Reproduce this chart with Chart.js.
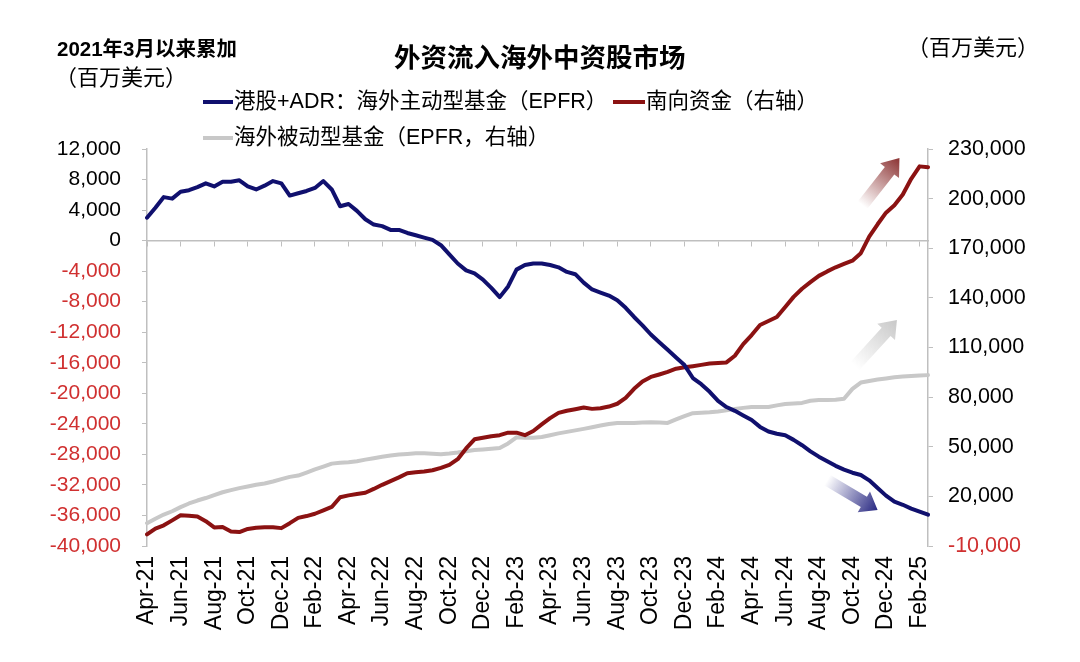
<!DOCTYPE html>
<html>
<head>
<meta charset="utf-8">
<script src="https://cdn.jsdelivr.net/npm/chart.js@4.4.1/dist/chart.umd.min.js"></script>
<style>
  body { margin: 0; background: #fff; }
  #wrap { position: relative; width: 1080px; height: 662px; font-family: "Liberation Sans", Arial, "Noto Sans CJK SC", sans-serif; color: #000; }
  canvas { position: absolute; left: 0; top: 0; }
  .txt { position: absolute; white-space: nowrap; line-height: 1; }
  .swatch { position: absolute; height: 4px; }
</style>
</head>
<body>
<div id="wrap">
  <canvas id="chart" width="1080" height="662"></canvas>
  <div class="txt" style="left:57px; top:39px; font-size:20.5px; font-weight:bold;">2021年3月以来累加</div>
  <div class="txt" style="left:55px; top:67px; font-size:22px;">（百万美元）</div>
  <div class="txt" style="left:394px; top:45px; font-size:26.5px; font-weight:bold;">外资流入海外中资股市场</div>
  <div class="txt" style="left:907px; top:37px; font-size:22px;">（百万美元）</div>

  <div class="swatch" style="left:203px; top:100px; width:30px; background:#10106e;"></div>
  <div class="txt" style="left:234px; top:91px; font-size:21.5px;">港股+ADR：海外主动型基金（EPFR）</div>
  <div class="swatch" style="left:613px; top:100px; width:32px; background:#8b1212;"></div>
  <div class="txt" style="left:646px; top:91px; font-size:21.5px;">南向资金（右轴）</div>
  <div class="swatch" style="left:203px; top:136px; width:30px; background:#c8c8c8;"></div>
  <div class="txt" style="left:234px; top:127px; font-size:21.5px;">海外被动型基金（EPFR，右轴）</div>
</div>
<script>
// Months covered, each split into two half-month observations
const months = ['Apr-21','May-21','Jun-21','Jul-21','Aug-21','Sep-21','Oct-21','Nov-21','Dec-21',
  'Jan-22','Feb-22','Mar-22','Apr-22','May-22','Jun-22','Jul-22','Aug-22','Sep-22','Oct-22','Nov-22','Dec-22',
  'Jan-23','Feb-23','Mar-23','Apr-23','May-23','Jun-23','Jul-23','Aug-23','Sep-23','Oct-23','Nov-23','Dec-23',
  'Jan-24','Feb-24','Mar-24','Apr-24','May-24','Jun-24','Jul-24','Aug-24','Sep-24','Oct-24','Nov-24','Dec-24',
  'Jan-25','Feb-25'];
const periods = months.flatMap(m => [m + ' H1', m + ' H2']);

// Left axis ticks
const leftMin = -40000, leftMax = 12000, leftStep = 4000;
// Right axis ticks
const rightMin = -10000, rightMax = 230000, rightStep = 30000;

// 港股+ADR：海外主动型基金（EPFR）, left axis
const activeFunds = [3000, 4300, 5700, 5500, 6400, 6600, 7000, 7500, 7100, 7700,
  7700, 7900, 7100, 6700, 7200, 7800, 7500, 5900, 6200, 6500,
  6900, 7800, 6700, 4500, 4800, 3900, 2800, 2100, 1900, 1400,
  1400, 1000, 700, 400, 100, -600, -1800, -3000, -3900, -4300,
  -5100, -6200, -7400, -6000, -3800, -3200, -3000, -3000, -3200, -3500,
  -4100, -4400, -5500, -6400, -6800, -7200, -7800, -8800, -10000, -11100,
  -12300, -13300, -14300, -15300, -16300, -18000, -18800, -19800, -21000, -21800,
  -22300, -22900, -23500, -24400, -25000, -25300, -25500, -26100, -26800, -27600,
  -28300, -28900, -29500, -30000, -30400, -30700, -31400, -32400, -33400, -34200,
  -34600, -35100, -35500, -35900];

// 南向资金（右轴）
const southbound = [-3000, 500, 2500, 5500, 8600, 8300, 7800, 5000, 1200, 1500,
  -1200, -1600, 300, 1000, 1400, 1400, 800, 3800, 7000, 8100,
  9500, 11500, 13600, 19500, 20600, 21400, 22200, 24500, 27000, 29200,
  31500, 34000, 34600, 35000, 35800, 37200, 39000, 42500, 49000, 54500,
  55400, 56300, 57000, 58500, 58500, 57000, 59500, 63500, 67300, 70500,
  71800, 72700, 73700, 72900, 73300, 74300, 76000, 79500, 85000, 89500,
  92200, 93700, 95300, 97200, 98000, 98700, 99500, 100300, 100600, 101000,
  105000, 112000, 117500, 123600, 126000, 128400, 134500, 140600, 145500, 149500,
  153300, 156000, 158500, 160500, 162500, 167000, 177000, 184500, 191500, 196000,
  202500, 212000, 219500, 219000];

// 海外被动型基金（EPFR，右轴）
const passiveFunds = [3800, 6500, 9000, 11000, 13500, 15700, 17500, 19000, 20800, 22500,
  23800, 25000, 26000, 27000, 27800, 29000, 30400, 31800, 32600, 34400,
  36300, 38000, 39800, 40300, 40600, 41200, 42200, 43100, 43900, 44700,
  45300, 45600, 46000, 46000, 45700, 45500, 45900, 46500, 47300, 48000,
  48400, 48800, 49200, 52000, 55700, 55400, 55400, 55900, 57000, 58100,
  59000, 59900, 60800, 61800, 62800, 63800, 64300, 64300, 64400, 64700,
  64800, 64600, 64400, 66500, 68500, 70300, 70500, 70800, 71300, 72000,
  72800, 73500, 74000, 74000, 74000, 75000, 75800, 76100, 76500, 77800,
  78200, 78200, 78400, 79000, 85000, 88800, 89800, 90600, 91300, 92000,
  92400, 92800, 93100, 93300];

// Trend arrows, [period index, right-axis value] tail -> tip
const arrows = [
  { from: [85.2, 196000], to: [89.6, 224500], color: [139, 50, 50] },
  { from: [84.3, 98800], to: [89.3, 126600], color: [200, 200, 200] },
  { from: [81.0, 29800], to: [87.0, 11700], color: [40, 40, 130] }
];

const RED = '#d03030';
const AXIS = '#bfbfbf';
const tickFont = { family: '"Liberation Sans", Arial, sans-serif', size: 21 };

function drawArrow(ctx, x0, y0, x1, y1, rgb) {
  const ang = Math.atan2(y1 - y0, x1 - x0);
  const len = Math.hypot(x1 - x0, y1 - y0);
  const shaft = 6, head = 12, headLen = 16;
  ctx.save();
  ctx.translate(x0, y0);
  ctx.rotate(ang);
  const g = ctx.createLinearGradient(0, 0, len, 0);
  g.addColorStop(0, `rgba(${rgb},0)`);
  g.addColorStop(0.35, `rgba(${rgb},0.35)`);
  g.addColorStop(1, `rgba(${rgb},1)`);
  ctx.fillStyle = g;
  ctx.beginPath();
  ctx.moveTo(0, -shaft);
  ctx.lineTo(len - headLen, -shaft);
  ctx.lineTo(len - headLen, -head);
  ctx.lineTo(len, 0);
  ctx.lineTo(len - headLen, head);
  ctx.lineTo(len - headLen, shaft);
  ctx.lineTo(0, shaft);
  ctx.closePath();
  ctx.fill();
  ctx.restore();
}

const arrowPlugin = {
  id: 'arrows',
  afterDatasetsDraw(chart) {
    const xs = chart.scales.x, ys = chart.scales.y2;
    arrows.forEach(a => {
      drawArrow(chart.ctx,
        xs.getPixelForValue(a.from[0]), ys.getPixelForValue(a.from[1]),
        xs.getPixelForValue(a.to[0]), ys.getPixelForValue(a.to[1]),
        a.color.join(','));
    });
  }
};

new Chart(document.getElementById('chart'), {
  type: 'line',
  data: {
    labels: periods,
    datasets: [
      { label: '港股+ADR：海外主动型基金（EPFR）', data: activeFunds, yAxisID: 'y', borderColor: '#10106e', borderWidth: 4 },
      { label: '南向资金（右轴）', data: southbound, yAxisID: 'y2', borderColor: '#8b1212', borderWidth: 4 },
      { label: '海外被动型基金（EPFR，右轴）', data: passiveFunds, yAxisID: 'y2', borderColor: '#c8c8c8', borderWidth: 4 }
    ]
  },
  options: {
    responsive: false,
    animation: false,
    events: [],
    elements: { point: { radius: 0 }, line: { tension: 0, borderJoinStyle: 'round', borderCapStyle: 'round' } },
    layout: { padding: { top: 149, left: 0, right: 0, bottom: 0 } },
    plugins: { legend: { display: false }, title: { display: false }, tooltip: { enabled: false } },
    scales: {
      x: {
        type: 'category',
        offset: false,
        grid: { display: false, drawTicks: false },
        border: { display: false },
        ticks: {
          autoSkip: false, minRotation: 90, maxRotation: 90, padding: 10,
          color: '#000', font: { family: tickFont.family, size: 23 },
          callback: (v, i) => i % 4 === 0 ? months[i / 2] : null
        },
        afterFit: s => { s.height = 116; }
      },
      x0: {
        type: 'category',
        labels: periods,
        offset: false,
        position: { y: 0 },
        grid: {
          drawOnChartArea: false, drawTicks: true, tickLength: 5, lineWidth: 1,
          color: c => c.index % 4 === 0 ? AXIS : 'rgba(0,0,0,0)'
        },
        border: { display: true, color: AXIS, width: 1.5 },
        ticks: { display: false, autoSkip: false }
      },
      y: {
        position: 'left',
        min: leftMin, max: leftMax,
        grid: { drawOnChartArea: false, drawTicks: true, tickLength: 5, color: AXIS },
        border: { display: true, color: AXIS, width: 1.5 },
        ticks: {
          stepSize: leftStep, padding: 21, font: tickFont,
          color: c => c.tick.value < 0 ? RED : '#000',
          callback: v => v.toLocaleString('en-US')
        },
        afterFit: s => { s.width = 147; }
      },
      y2: {
        position: 'right',
        min: rightMin, max: rightMax,
        grid: { drawOnChartArea: false, drawTicks: true, tickLength: 5, color: AXIS },
        border: { display: true, color: AXIS, width: 1.5 },
        ticks: {
          stepSize: rightStep, padding: 15, font: { family: tickFont.family, size: 21.5 },
          color: c => c.tick.value < 0 ? RED : '#000',
          callback: v => v.toLocaleString('en-US')
        },
        afterFit: s => { s.width = 152; }
      }
    }
  },
  plugins: [arrowPlugin]
});
</script>
</body>
</html>
